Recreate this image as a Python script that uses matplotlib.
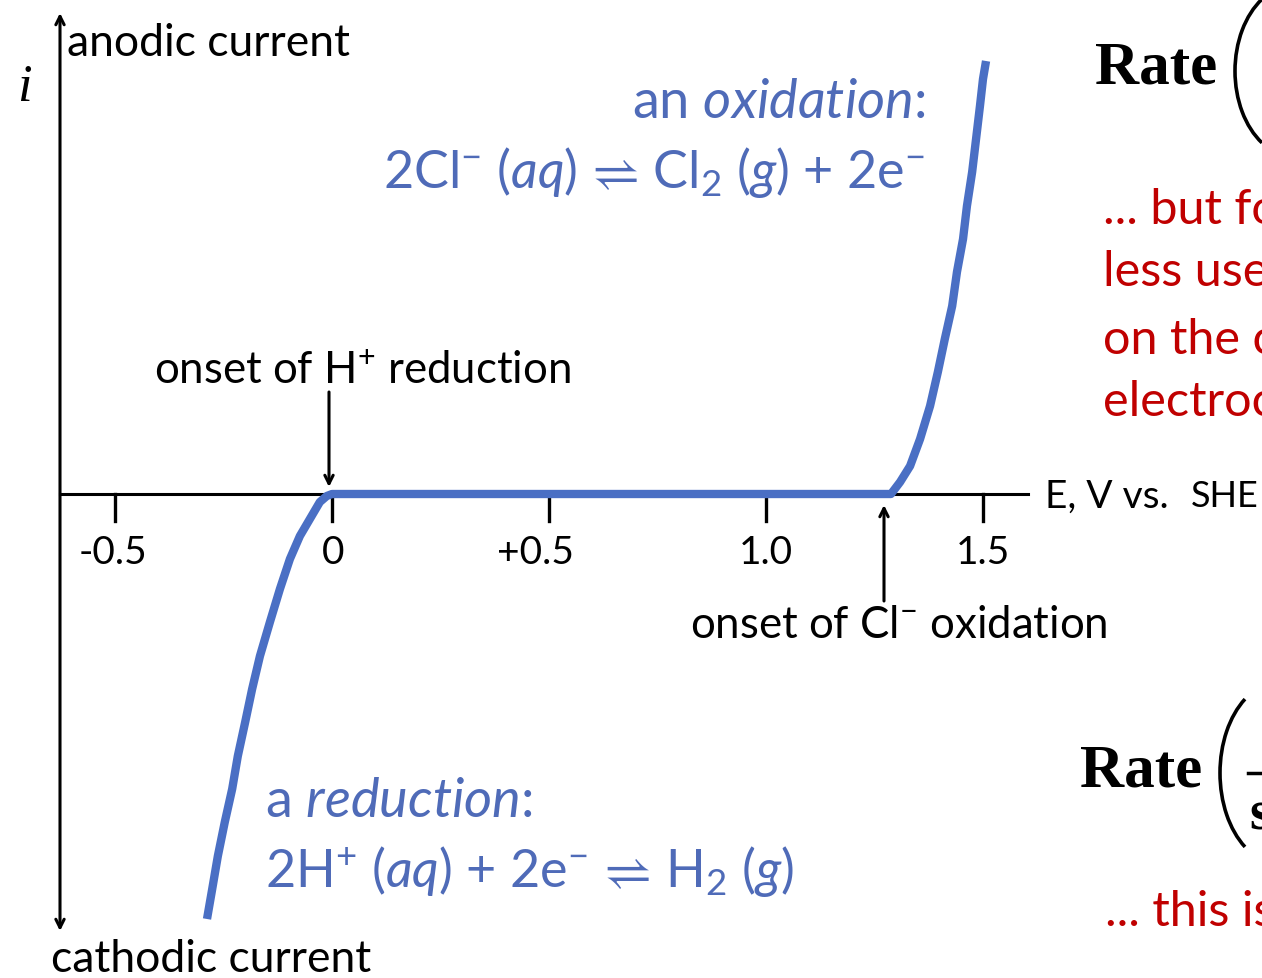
import numpy as np
import matplotlib
matplotlib.use("Agg")
import matplotlib.pyplot as plt
from matplotlib.patches import Arc

plt.rcParams['mathtext.fontset'] = 'custom'
plt.rcParams['mathtext.rm'] = 'Lato'
plt.rcParams['mathtext.it'] = 'Lato:italic'
plt.rcParams['mathtext.bf'] = 'Lato:bold'
plt.rcParams['mathtext.fallback'] = 'stixsans'

# cathodic branch (H+ reduction): E (V vs SHE), i (arbitrary units)
e_red = [-0.288, -0.276, -0.263, -0.247, -0.230, -0.217, -0.200, -0.184,
         -0.166, -0.143, -0.120, -0.097, -0.074, -0.051, -0.028, -0.012, 0.0]
i_red = [-4.25, -3.95, -3.62, -3.28, -2.95, -2.62, -2.28, -1.95,
         -1.62, -1.28, -0.95, -0.65, -0.42, -0.25, -0.08, -0.02, 0.0]
# anodic branch (Cl- oxidation)
e_ox = [1.288, 1.309, 1.332, 1.355, 1.378, 1.396, 1.412, 1.429, 1.440,
        1.454, 1.463, 1.475, 1.484, 1.493, 1.500, 1.507]
i_ox = [0.0, 0.12, 0.28, 0.55, 0.88, 1.22, 1.55, 1.88, 2.22,
        2.55, 2.88, 3.22, 3.55, 3.88, 4.15, 4.33]

tick_vals = [-0.5, 0.0, 0.5, 1.0, 1.5]
tick_labels = ['-0.5', '0', '+0.5', '1.0', '1.5']

BLUE_LINE = '#4a6fc4'
BLUE_TXT = '#4f6bb8'
RED = '#c00000'
SANS = ['Lato', 'DejaVu Sans']

# pixel -> data helper (layout only)
X0, SX, Y0, SY = 332, 434, 495, 100


def P(x, y):
    return ((x - X0) / SX, (Y0 - y) / SY)


def paren(ax, cx, cy, a, b, half):
    # left bracket as an elliptic arc; a, b in pixels, half = parametric half-span (deg)
    w, h = 2 * a / SX, 2 * b / SY
    t1, t2 = np.radians(180 - half), np.radians(180 + half)
    th1 = np.degrees(np.arctan2(h * np.sin(t1), w * np.cos(t1)))
    th2 = np.degrees(np.arctan2(h * np.sin(t2), w * np.cos(t2))) + 360
    ax.add_patch(Arc(P(cx, cy), w, h, theta1=th1, theta2=th2, color='black', lw=2.6))


fig = plt.figure(figsize=(12.62, 9.79), dpi=100)
ax = fig.add_axes([0, 0, 1, 1])
ax.set_xlim(P(0, 0)[0], P(1262, 0)[0])
ax.set_ylim(P(0, 979)[1], P(0, 0)[1])
ax.axis('off')

# axes
ax.plot([P(60, 0)[0], P(1028, 0)[0]], [0, 0], color='black', lw=2.2, zorder=2)
ax.annotate('', xy=P(60, 14), xytext=P(60, 932),
            arrowprops=dict(arrowstyle='<->,head_length=0.6,head_width=0.3',
                            lw=2.2, color='black', shrinkA=0, shrinkB=0))
for v in tick_vals:
    ax.plot([v, v], [0, P(0, 522)[1]], color='black', lw=2.4, zorder=2)

label_x = [113, 333, 535, 766, 983]
for lx, lab in zip(label_x, tick_labels):
    ax.text(P(lx, 0)[0], P(0, 553)[1], lab, ha='center', va='center',
            fontsize=28, family=SANS)

# the curve
ax.plot(e_red + e_ox, i_red + i_ox, color=BLUE_LINE, lw=6,
        solid_capstyle='butt', solid_joinstyle='round', zorder=3)

# onset arrows
arrow = dict(arrowstyle='->,head_length=0.6,head_width=0.3',
             lw=2.2, color='black', shrinkA=0, shrinkB=0)
ax.annotate('', xy=P(329, 488), xytext=P(329, 393), arrowprops=arrow)
ax.annotate('', xy=P(884, 506), xytext=P(884, 602), arrowprops=arrow)

# black labels
ax.text(*P(67, 43), 'anodic current', ha='left', va='center', fontsize=32, family=SANS)
ax.text(*P(51, 960), 'cathodic current', ha='left', va='center', fontsize=32, family=SANS)
ax.text(*P(362, 372), 'onset of H$^{+}$ reduction', ha='center', va='center',
        fontsize=31.5, family=SANS)
ax.text(*P(899, 625), 'onset of Cl$^{-}$ oxidation', ha='center', va='center',
        fontsize=31.5, family=SANS)
ax.text(*P(1045, 497), 'E, V vs.', ha='left', va='center', fontsize=28, family=SANS)
ax.text(*P(1191, 497), 'SHE', ha='left', va='center', fontsize=26, family=SANS)
ax.text(*P(24, 88), 'i', ha='center', va='center', fontsize=38,
        family='Liberation Serif', style='italic')

# blue reaction labels
ax.text(*P(925, 102), r'an $\mathit{oxidation}$:', ha='right', va='center',
        fontsize=39, color=BLUE_TXT, family=SANS)
ax.text(*P(925, 172), r'2Cl$^{-}$ ($\mathit{aq}$) $⇌$ Cl$_{2}$ ($\mathit{g}$) + 2e$^{-}$',
        ha='right', va='center', fontsize=37.5, color=BLUE_TXT, family=SANS)
ax.text(*P(265, 802), r'a $\mathit{reduction}$:', ha='left', va='center',
        fontsize=39, color=BLUE_TXT, family=SANS)
ax.text(*P(265, 872), r'2H$^{+}$ ($\mathit{aq}$) + 2e$^{-}$ $⇌$ H$_{2}$ ($\mathit{g}$)',
        ha='left', va='center', fontsize=37.5, color=BLUE_TXT, family=SANS)

# right-hand side (cut off in the original slide)
ax.text(*P(1095, 68), 'Rate', ha='left', va='center', fontsize=44,
        family='Liberation Serif', weight='bold')
paren(ax, 1295, 72, 60, 86, 56.6)
ax.text(*P(1080, 772), 'Rate', ha='left', va='center', fontsize=44,
        family='Liberation Serif', weight='bold')
paren(ax, 1280, 774, 60, 91, 54.3)
ax.plot([P(1248, 0)[0], P(1262, 0)[0]], [P(0, 774)[1]] * 2, color='black', lw=2.5)
ax.text(*P(1249, 815), 's', ha='left', va='center', fontsize=40,
        family='Liberation Serif', weight='bold')

red_lines = ['... but fo', 'less use', 'on the c', 'electroc']
red_y = [210, 272, 340, 402]
for txt, ry in zip(red_lines, red_y):
    ax.text(*P(1103, ry), txt, ha='left', va='center', fontsize=35,
            color=RED, family=SANS)
ax.text(*P(1105, 912), '... this is', ha='left', va='center', fontsize=35,
        color=RED, family=SANS)

fig.savefig('out.png', dpi=100)
